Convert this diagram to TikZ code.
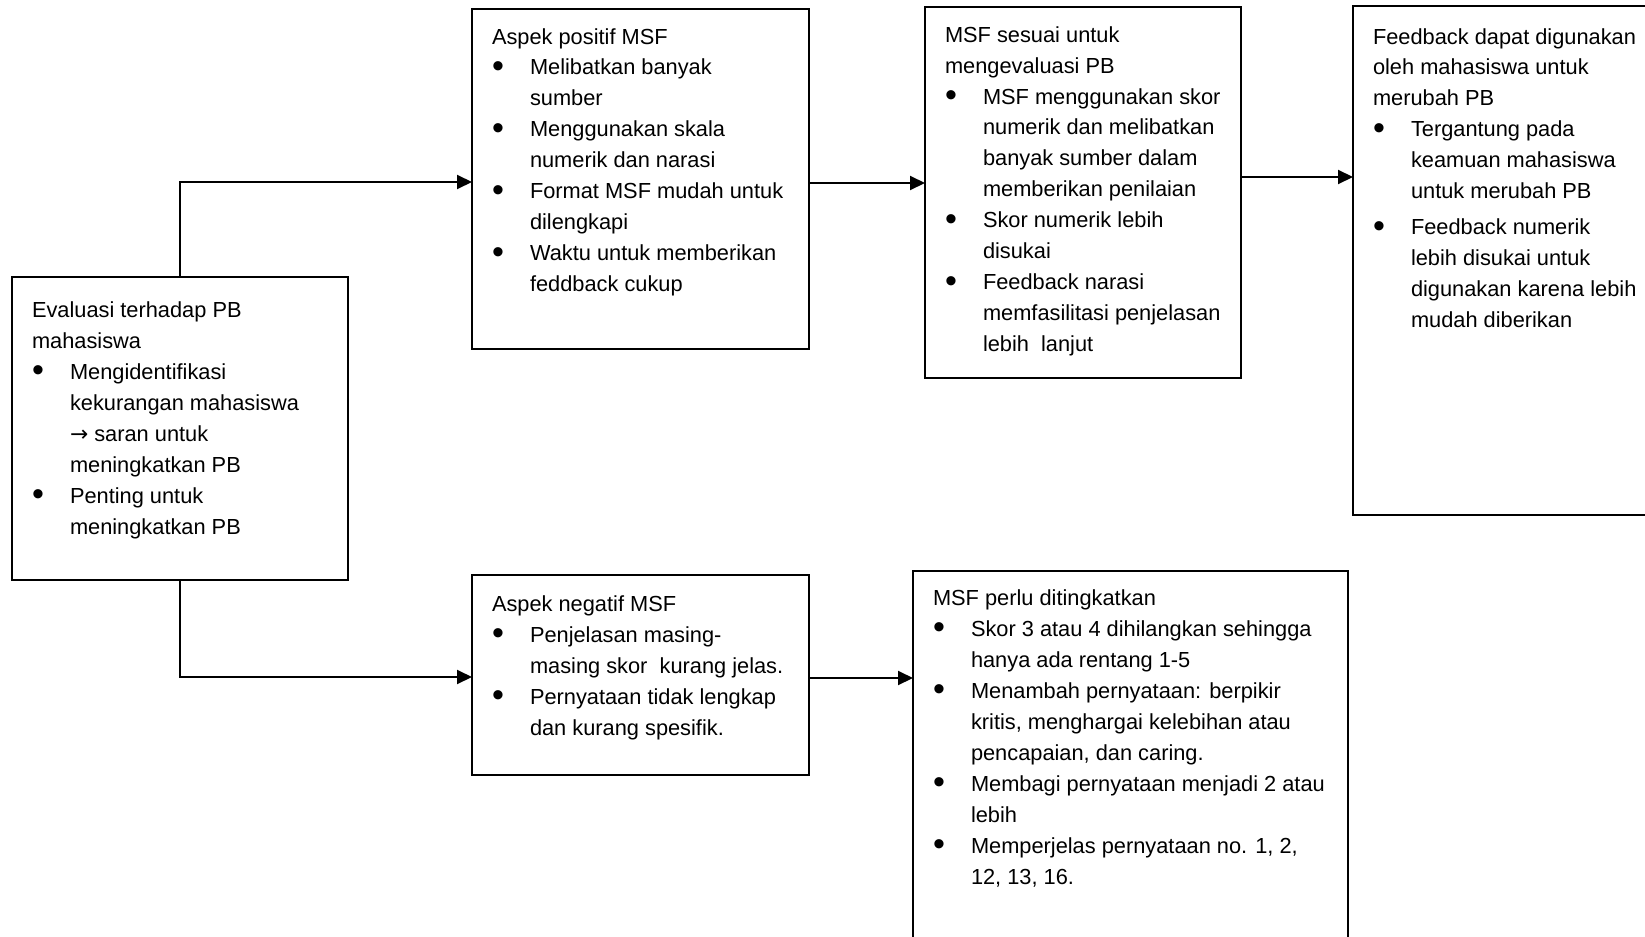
\documentclass[tikz,border=0pt]{standalone}
\usepackage{fontspec}
\setmainfont{Liberation Sans}
\newfontfamily\symfont{DejaVu Sans}
\usetikzlibrary{arrows.meta}

% one bullet line with hanging text
\newcommand{\itm}{\par\hangindent=19pt\hangafter=1\noindent
  \makebox[19pt][l]{\raisebox{-1.3pt}{\fontsize{17pt}{17pt}\selectfont\textbullet}}}
% text of a box: [first baseline]{width}{height}{text}
\newcommand{\boxtxt}[4][18pt]{\parbox[t][#3][t]{#2}{\raggedright\leftskip=10pt
  \vspace*{\dimexpr#1-\ht\strutbox\relax}\strut#4}}

\begin{document}
\begin{tikzpicture}[x=0.5pt,y=-0.5pt,
    box/.style={draw, line width=0.9pt, inner sep=0pt, outer sep=0pt, anchor=north west},
    flow/.style={draw, line width=1pt, -{Triangle[length=7.5pt,width=7pt]}},
    font=\fontsize{10.9pt}{15.5pt}\selectfont]
  %\draw[help lines] (0,0) grid (1645,937);
  \useasboundingbox (0,0) rectangle (1645,937);
  \clip (0,0) rectangle (1645,937);

  \node[box] (evalbox) at (12,277) {\boxtxt[20pt]{168pt}{151.5pt}{%
    Evaluasi terhadap PB\\mahasiswa
    \itm Mengidentifikasi\newline kekurangan mahasiswa\newline {\symfont →} saran untuk\newline meningkatkan PB
    \itm Penting untuk\newline meningkatkan PB}};

  \node[box] (posbox) at (472,9) {\boxtxt[17.5pt]{168.5pt}{170pt}{%
    Aspek positif MSF
    \itm Melibatkan banyak\newline sumber
    \itm Menggunakan skala\newline numerik dan narasi
    \itm Format MSF mudah untuk\newline dilengkapi
    \itm Waktu untuk memberikan\newline feddback cukup}};

  \node[box] (sesuaibox) at (925,7) {\boxtxt[17.5pt]{158pt}{185.5pt}{%
    MSF sesuai untuk\\mengevaluasi PB
    \itm MSF menggunakan skor\newline numerik dan melibatkan\newline banyak sumber dalam\newline memberikan penilaian
    \itm Skor numerik lebih\newline disukai
    \itm Feedback narasi\newline memfasilitasi penjelasan\newline lebih~ lanjut}};

  \node[box] (fbbox) at (1353,6) {\boxtxt[19pt]{173.5pt}{254.5pt}{%
    Feedback dapat digunakan\\oleh mahasiswa untuk\\merubah PB
    \itm Tergantung pada\newline keamuan mahasiswa\newline untuk merubah PB
    \par\vspace{2.5pt}
    \itm Feedback numerik\newline lebih disukai untuk\newline digunakan karena lebih\newline mudah diberikan}};

  \node[box] (negbox) at (472,575) {\boxtxt[18pt]{168.5pt}{100pt}{%
    Aspek negatif MSF
    \itm Penjelasan masing-\newline masing skor~ kurang jelas.
    \itm Pernyataan tidak lengkap\newline dan kurang spesifik.}};

  \node[box] (perlubox) at (913,571) {\boxtxt[17pt]{217.5pt}{204.5pt}{%
    MSF perlu ditingkatkan
    \itm Skor 3 atau 4 dihilangkan sehingga\newline hanya ada rentang 1-5
    \itm Menambah pernyataan: berpikir\newline kritis, menghargai kelebihan atau\newline pencapaian, dan caring.
    \itm Membagi pernyataan menjadi 2 atau\newline lebih
    \itm Memperjelas pernyataan no. 1, 2,\newline 12, 13, 16.}};

  \draw[flow] (evalbox.north) |- ([yshift=-1.5pt]posbox.west);
  \draw[flow] (evalbox.south) |- ([yshift=-1pt]negbox.west);
  \draw[flow] ([yshift=-2pt]posbox.east) coordinate (bc) -- (bc -| sesuaibox.west);
  \draw[flow] ([yshift=7.75pt]sesuaibox.east) coordinate (cd) -- (cd -| fbbox.west);
  \draw[flow] ([yshift=-1.5pt]negbox.east) coordinate (ef) -- (ef -| perlubox.west);
\end{tikzpicture}
\end{document}
